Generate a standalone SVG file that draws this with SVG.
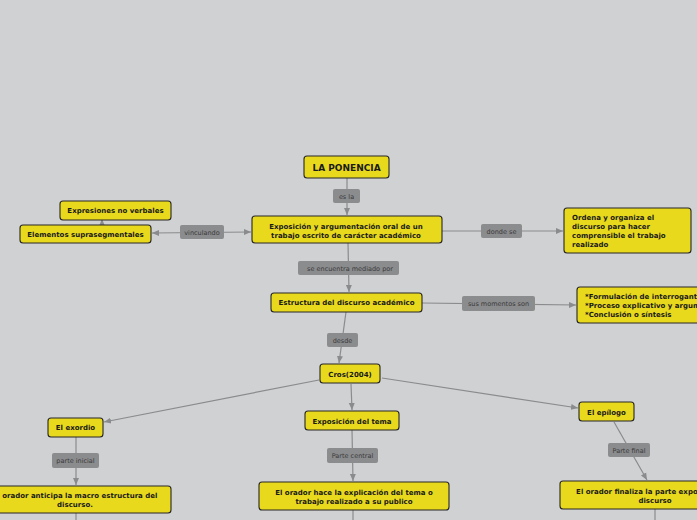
<svg xmlns="http://www.w3.org/2000/svg" width="697" height="520" viewBox="0 0 697 520">
<style>
.n rect{fill:#e8d91c;stroke:#262626;stroke-width:1.1}
.n text{font-family:"DejaVu Sans",Verdana,sans-serif;font-weight:bold;font-size:7px;fill:#1a1a1a;text-anchor:middle}
.n text.l{text-anchor:start}
.lb rect{fill:#8b8c8e}
.lb text{font-family:"DejaVu Sans",Verdana,sans-serif;font-size:6.5px;fill:#3a3a3a;text-anchor:middle}
.c path{fill:none;stroke:#8a8b8d;stroke-width:1.2}
</style>
<defs>
<marker id="a" markerWidth="8" markerHeight="8" refX="7" refY="4" orient="auto" markerUnits="userSpaceOnUse">
<path d="M0,1 L7,4 L0,7 Z" fill="#8a8b8d"/>
</marker>
<marker id="s" markerWidth="8" markerHeight="8" refX="0" refY="4" orient="auto" markerUnits="userSpaceOnUse">
<path d="M7,1 L0,4 L7,7 Z" fill="#8a8b8d"/>
</marker>
</defs>
<rect width="697" height="520" fill="#d0d1d3"/>
<g id="connectors" class="c">
<path d="M347,178 V215" marker-end="url(#a)"/>
<path d="M152,233 L251,232" marker-start="url(#s)" marker-end="url(#a)"/>
<path d="M102,225 V219" marker-end="url(#a)"/>
<path d="M442,231 H563" marker-end="url(#a)"/>
<path d="M348,243 L349,292" marker-end="url(#a)"/>
<path d="M422,303 L576,305" marker-end="url(#a)"/>
<path d="M346,312 L339,363" marker-end="url(#a)"/>
<path d="M319,380 L104,422" marker-end="url(#a)"/>
<path d="M351,384 L352,410" marker-end="url(#a)"/>
<path d="M382,378 L578,408" marker-end="url(#a)"/>
<path d="M76,437 V485" marker-end="url(#a)"/>
<path d="M76,513 V520"/>
<path d="M352,430 L353,481" marker-end="url(#a)"/>
<path d="M353,510 V520"/>
<path d="M614,422 L647,480" marker-end="url(#a)"/>
<path d="M655,509 V520"/>
</g>
<g class="lb">
<g id="lbl-esla"><rect x="333" y="189" width="27" height="14" rx="2"/><text x="346.5" y="198.5">es la</text></g>
<g id="lbl-vinculando"><rect x="180" y="225" width="44" height="14" rx="2"/><text x="202" y="234.5">vinculando</text></g>
<g id="lbl-dondese"><rect x="481" y="224" width="41" height="14" rx="2"/><text x="501.5" y="233.5">donde se</text></g>
<g id="lbl-mediado"><rect x="298" y="261" width="101" height="14" rx="2"/><text x="350" y="270.5">se encuentra mediado por</text></g>
<g id="lbl-momentos"><rect x="462" y="296" width="73" height="15" rx="2"/><text x="498.5" y="305.5">sus momentos son</text></g>
<g id="lbl-desde"><rect x="327" y="333" width="31" height="14" rx="2"/><text x="342.5" y="342.5">desde</text></g>
<g id="lbl-inicial"><rect x="52" y="453" width="47" height="15" rx="2"/><text x="75.5" y="463">parte inicial</text></g>
<g id="lbl-central"><rect x="327" y="448" width="51" height="15" rx="2"/><text x="352.5" y="458">Parte central</text></g>
<g id="lbl-final"><rect x="608" y="443" width="42" height="14" rx="2"/><text x="629" y="452.5">Parte final</text></g>
</g>
<g id="n-ponencia" class="n"><rect x="304" y="156" width="85" height="22" rx="3"/><text x="346.5" y="170.5" style="font-size:9px">LA PONENCIA</text></g>
<g id="n-exposicion" class="n"><rect x="252" y="216" width="190" height="27" rx="3"/><text x="346" y="228.5">Exposición y argumentación oral de un</text><text x="346" y="237.5">trabajo escrito de carácter académico</text></g>
<g id="n-expresiones" class="n"><rect x="60" y="201" width="111" height="19" rx="3"/><text x="115.5" y="213">Expresiones no verbales</text></g>
<g id="n-elementos" class="n"><rect x="20" y="225" width="131" height="18" rx="3"/><text x="85.5" y="236.5">Elementos suprasegmentales</text></g>
<g id="n-ordena" class="n"><rect x="564" y="208" width="127" height="45" rx="3"/><text class="l" x="572" y="220">Ordena y organiza el</text><text class="l" x="572" y="229">discurso para hacer</text><text class="l" x="572" y="238">comprensible  el trabajo</text><text class="l" x="572" y="247">realizado</text></g>
<g id="n-estructura" class="n"><rect x="271" y="293" width="151" height="19" rx="3"/><text x="346.5" y="305">Estructura del discurso académico</text></g>
<g id="n-formulacion" class="n"><rect x="577" y="287" width="140" height="36" rx="3"/><text class="l" x="585" y="299">*Formulación de interrogantes</text><text class="l" x="585" y="308">*Proceso explicativo y argumentativo</text><text class="l" x="585" y="317">*Conclusión o síntesis</text></g>
<g id="n-cros" class="n"><rect x="320" y="364" width="60" height="19" rx="3"/><text x="350" y="376.5">Cros(2004)</text></g>
<g id="n-exordio" class="n"><rect x="48" y="418" width="55" height="19" rx="3"/><text x="75.5" y="430">El exordio</text></g>
<g id="n-tema" class="n"><rect x="305" y="411" width="94" height="19" rx="3"/><text x="352" y="423.5">Exposición del tema</text></g>
<g id="n-epilogo" class="n"><rect x="579" y="402" width="55" height="19" rx="3"/><text x="606.5" y="414.5">El epílogo</text></g>
<g id="n-anticipa" class="n"><rect x="-20" y="486" width="191" height="27" rx="3"/><text x="75" y="497.5">El orador anticipa la macro estructura del</text><text x="75" y="506.5">discurso.</text></g>
<g id="n-hace" class="n"><rect x="259" y="482" width="190" height="28" rx="3"/><text x="354" y="494.5">El orador hace la explicación del tema o</text><text x="354" y="503.5">trabajo realizado a su publico</text></g>
<g id="n-finaliza" class="n"><rect x="560" y="481" width="190" height="28" rx="3"/><text x="655" y="493.5">El orador finaliza la parte expositiva del</text><text x="655" y="502.5">discurso</text></g>
</svg>
